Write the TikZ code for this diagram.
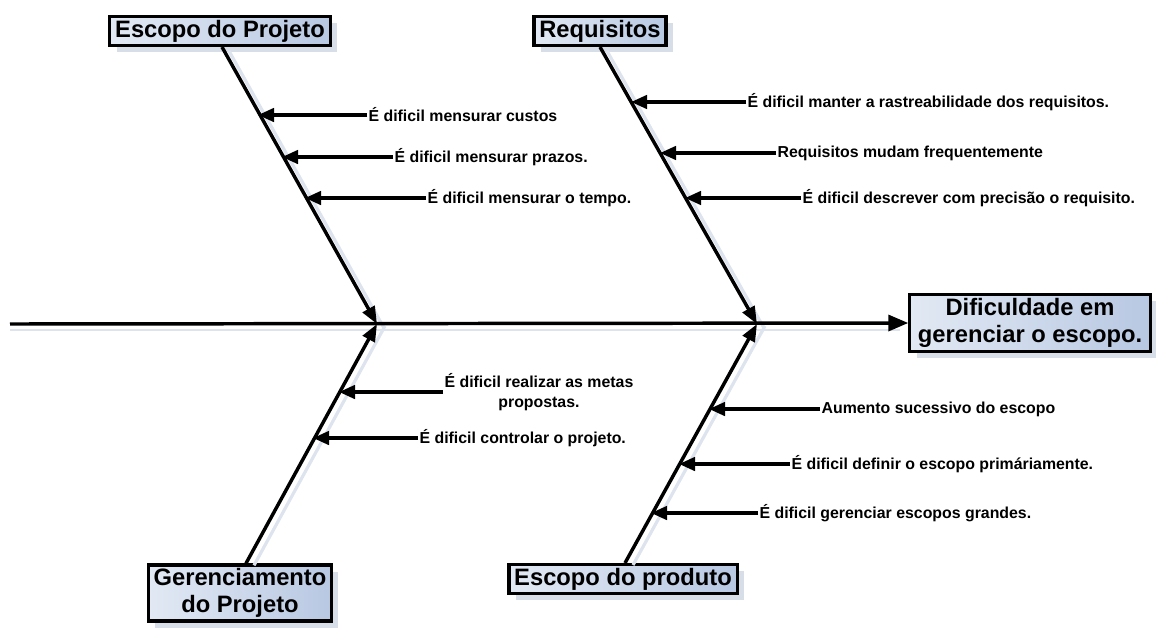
\documentclass[tikz,border=0pt]{standalone}
\usepackage{fontspec}
\setmainfont{Liberation Sans}
\usetikzlibrary{arrows.meta,shadows,calc}
\definecolor{boxL}{RGB}{226,233,244}
\definecolor{boxR}{RGB}{184,200,226}
\definecolor{shade}{RGB}{200,208,222}
\definecolor{lshade}{RGB}{222,228,238}
\begin{document}
\begin{tikzpicture}[x=0.75pt,y=-0.75pt,
  catbox/.style={draw=black,line width=2.4pt,left color=boxL,right color=boxR,
    font=\fontsize{17.8}{20.5}\selectfont\bfseries,align=center,inner xsep=4pt,inner ysep=2.5pt,
    drop shadow={shadow xshift=5pt,shadow yshift=-5pt,fill=shade,opacity=0.7}},
  bone/.style={line width=2.6pt,-{Triangle[length=13pt,width=10pt]}},
  bonesh/.style={line width=2.4pt,lshade},
  sub/.style={line width=2.6pt,-{Triangle[length=12pt,width=10pt]}},
  lbl/.style={font=\fontsize{11.9}{14.5}\selectfont\bfseries,anchor=west,inner sep=1pt,align=center}]
\useasboundingbox (0,0) rectangle (1156,628);
% boxes
\node[catbox] (ep) at (220,31) {Escopo do Projeto};
\node[catbox] (rq) at (600,31) {Requisitos};
\node[catbox] (gp) at (240,593) {Gerenciamento\\do Projeto};
\node[catbox] (pr) at (623,579) {Escopo do produto};
\node[catbox,inner xsep=6pt,inner ysep=3pt] (ef) at (1030,323) {Dificuldade em\\gerenciar o escopo.};
% junction coordinates
\coordinate (start) at (10,324);
\coordinate (j1) at (377,324);
\coordinate (j2) at (757,324);
\coordinate (epb) at ($(ep.south)+(2,0)$);
\coordinate (rqb) at (rq.south);
\coordinate (gpb) at ($(gp.north)+(6,0)$);
\coordinate (prb) at ($(pr.north)+(2,0)$);
% bone shadows
\draw[bonesh] ($(epb)+(7,4)$) -- ($(j1)+(7,4)$);
\draw[bonesh] ($(rqb)+(7,4)$) -- ($(j2)+(7,4)$);
\draw[bonesh] ($(gpb)+(8,2)$) -- ($(j1)+(8,2)$);
\draw[bonesh] ($(prb)+(8,2)$) -- ($(j2)+(8,2)$);
\draw[line width=1.5pt,lshade] (10,330) -- (900,330);
% spine
\draw[line width=2.6pt,-{Triangle[length=15pt,width=12pt]}] (start) -- (ef.west);
% main bones
\draw[bone] (epb) -- (j1);
\draw[bone] (rqb) -- (j2);
\draw[bone] (gpb) -- (j1);
\draw[bone] (prb) -- (j2);
% labels upper left
\node[lbl] (a1) at (367,115) {É dificil mensurar custos};
\node[lbl] (a2) at (393,157) {É dificil mensurar prazos.};
\node[lbl] (a3) at (426,198) {É dificil mensurar o tempo.};
\coordinate (a1e) at (258,115);
\coordinate (a2e) at (282,157);
\coordinate (a3e) at (305,198);
\draw[sub] (a1.west) -- (a1e);
\draw[sub] (a2.west) -- (a2e);
\draw[sub] (a3.west) -- (a3e);
% labels upper right
\node[lbl] (b1) at (746,102) {É dificil manter a rastreabilidade dos requisitos.};
\node[lbl] (b2) at (776,153) {Requisitos mudam frequentemente};
\node[lbl] (b3) at (801,198) {É dificil descrever com precisão o requisito.};
\coordinate (b1e) at (631,102);
\coordinate (b2e) at (660,153);
\coordinate (b3e) at (685,198);
\draw[sub] (b1.west) -- (b1e);
\draw[sub] (b2.west) -- (b2e);
\draw[sub] (b3.west) -- (b3e);
% labels lower left
\node[lbl] (c1) at (443,392) {É dificil realizar as metas\\propostas.};
\node[lbl] (c2) at (418,438) {É dificil controlar o projeto.};
\coordinate (c1e) at (339,392);
\coordinate (c2e) at (313,438);
\draw[sub] (c1.west) -- (c1e);
\draw[sub] (c2.west) -- (c2e);
% labels lower right
\node[lbl] (d1) at (820,409) {Aumento sucessivo do escopo};
\node[lbl] (d2) at (790,464) {É dificil definir o escopo primáriamente.};
\node[lbl] (d3) at (758,513) {É dificil gerenciar escopos grandes.};
\coordinate (d1e) at (709,409);
\coordinate (d2e) at (679,464);
\coordinate (d3e) at (651,513);
\draw[sub] (d1.west) -- (d1e);
\draw[sub] (d2.west) -- (d2e);
\draw[sub] (d3.west) -- (d3e);
\end{tikzpicture}
\end{document}
